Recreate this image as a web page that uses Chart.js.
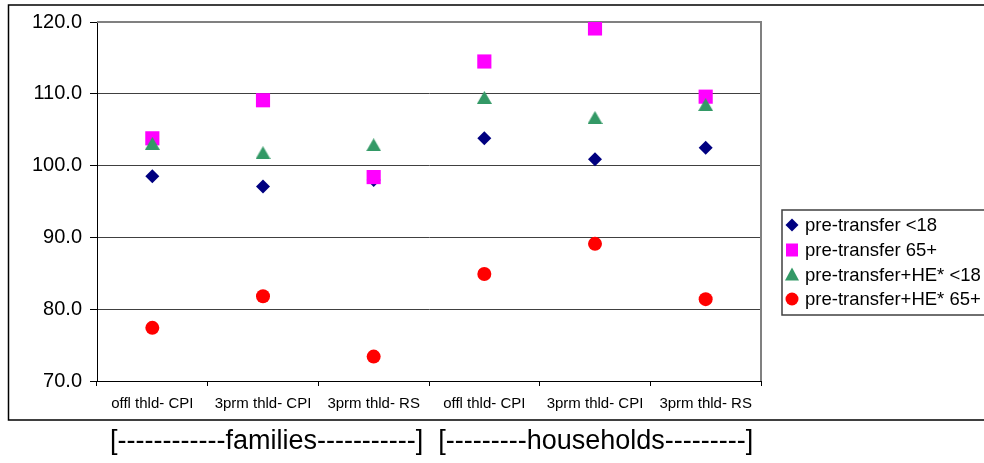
<!DOCTYPE html>
<html>
<head>
<meta charset="utf-8">
<script src="https://cdn.jsdelivr.net/npm/chart.js@4/dist/chart.umd.min.js"></script>
<style>
  html, body { margin: 0; padding: 0; background: #fff; }
  #wrap { width: 984px; height: 463px; position: relative; }
</style>
</head>
<body>
<div id="wrap"><canvas id="c" width="984" height="463"></canvas></div>
<script>
// Category labels along the x axis
const categories = ['offl thld- CPI', '3prm thld- CPI', '3prm thld- RS', 'offl thld- CPI', '3prm thld- CPI', '3prm thld- RS'];

// Series values (index, 100 = reference)
const preUnder18 = [98.5, 97.1, 98.0, 103.8, 100.9, 102.5];
const pre65 = [103.8, 109.1, 98.4, 114.5, 119.1, 109.6];
const heUnder18 = [103.1, 101.8, 102.9, 109.5, 106.7, 108.5];
const he65 = [77.4, 81.8, 73.4, 84.9, 89.1, 81.4];

const seriesNames = ['pre-transfer <18', 'pre-transfer 65+', 'pre-transfer+HE* <18', 'pre-transfer+HE* 65+'];

// Y axis range and tick step
const yMin = 70, yMax = 120, yStep = 10;

const groupCaption = '[------------families-----------]  [---------households---------]';

const FONT = '"Liberation Sans", Arial, sans-serif';

// Triangle marker centred on its bounding box
function triangleImage(w, h, color) {
  const cv = document.createElement('canvas');
  cv.width = w; cv.height = h;
  const g = cv.getContext('2d');
  g.fillStyle = color;
  g.beginPath();
  g.moveTo(w / 2, 0);
  g.lineTo(w, h);
  g.lineTo(0, h);
  g.closePath();
  g.fill();
  return cv;
}

const colors = ['#000080', '#FF00FF', '#339966', '#FF0000'];
const triMarker = triangleImage(15, 13, colors[2]);

const datasets = [
  { label: seriesNames[0], data: preUnder18, pointStyle: 'rectRot', pointRadius: 7, order: 4 },
  { label: seriesNames[1], data: pre65, pointStyle: 'rect', pointRadius: 10, order: 3 },
  { label: seriesNames[2], data: heUnder18, pointStyle: triMarker, pointRadius: 8, order: 2 },
  { label: seriesNames[3], data: he65, pointStyle: 'circle', pointRadius: 7, order: 1 }
].map((d, i) => Object.assign(d, {
  showLine: false,
  backgroundColor: colors[i],
  borderColor: colors[i],
  borderWidth: 0,
  pointBackgroundColor: colors[i],
  pointBorderColor: colors[i],
  pointBorderWidth: 0,
  pointHoverRadius: d.pointRadius
}));

// Frame, legend box and group caption
const decorations = {
  id: 'decorations',
  beforeDatasetsDraw(chart) {
    const { ctx, chartArea: a } = chart;
    ctx.save();
    ctx.strokeStyle = '#808080';
    ctx.lineWidth = 2;
    ctx.beginPath();
    ctx.moveTo(a.left, a.top);
    ctx.lineTo(a.right, a.top);
    ctx.lineTo(a.right, a.bottom);
    ctx.stroke();
    ctx.restore();
  },
  afterDraw(chart) {
    const ctx = chart.ctx;
    ctx.save();
    // outer box
    ctx.strokeStyle = '#000';
    ctx.lineWidth = 1.5;
    ctx.strokeRect(8.5, 5, 1000, 415);

    // legend
    const lx = 782, ly = 210, lh = 105;
    ctx.strokeStyle = '#404040';
    ctx.lineWidth = 1.5;
    ctx.strokeRect(lx, ly, 220, lh);
    ctx.font = '18.5px ' + FONT;
    ctx.fillStyle = '#000';
    ctx.textBaseline = 'middle';
    ctx.textAlign = 'left';
    const rows = [225, 250, 274.5, 299];
    chart.data.datasets.forEach((ds, i) => {
      const cx = 792, cy = rows[i];
      ctx.fillStyle = ds.pointBackgroundColor;
      ctx.beginPath();
      if (i === 0) {
        ctx.moveTo(cx, cy - 6.5); ctx.lineTo(cx + 6.5, cy); ctx.lineTo(cx, cy + 6.5); ctx.lineTo(cx - 6.5, cy);
        ctx.closePath(); ctx.fill();
      } else if (i === 1) {
        ctx.rect(cx - 6, cy - 6.5, 12, 13); ctx.fill();
      } else if (i === 2) {
        ctx.moveTo(cx, cy - 7); ctx.lineTo(cx + 7, cy + 6); ctx.lineTo(cx - 7, cy + 6);
        ctx.closePath(); ctx.fill();
      } else {
        ctx.arc(cx, cy, 6.5, 0, Math.PI * 2); ctx.fill();
      }
      ctx.fillStyle = '#000';
      ctx.fillText(ds.label, 805, cy + 1);
    });

    // group caption under the axis
    ctx.font = '27px ' + FONT;
    ctx.textBaseline = 'middle';
    ctx.textAlign = 'left';
    ctx.fillStyle = '#000';
    ctx.fillText(groupCaption, 110, 442);
    ctx.restore();
  }
};

new Chart(document.getElementById('c'), {
  type: 'line',
  data: { labels: categories, datasets },
  options: {
    responsive: false,
    animation: false,
    events: [],
    layout: { padding: { left: 0, right: 223, top: 22, bottom: 0 } },
    plugins: { legend: { display: false }, tooltip: { enabled: false } },
    scales: {
      x: {
        offset: true,
        afterFit(scale) { scale.height = 82; },
        grid: { drawOnChartArea: false, drawTicks: true, tickLength: 5, tickColor: '#000', offset: true },
        border: { color: '#000', width: 1 },
        ticks: { color: '#000', font: { family: FONT, size: 15 }, padding: 9, maxRotation: 0, autoSkip: false }
      },
      y: {
        min: yMin, max: yMax,
        afterFit(scale) { scale.width = 97; },
        grid: { color: '#404040', lineWidth: 1, tickColor: '#000', tickLength: 7 },
        border: { color: '#000', width: 1 },
        ticks: {
          stepSize: yStep, color: '#000', padding: 8,
          font: { family: FONT, size: 20 },
          callback: v => Number(v).toFixed(1)
        }
      }
    }
  },
  plugins: [decorations]
});
</script>
</body>
</html>
